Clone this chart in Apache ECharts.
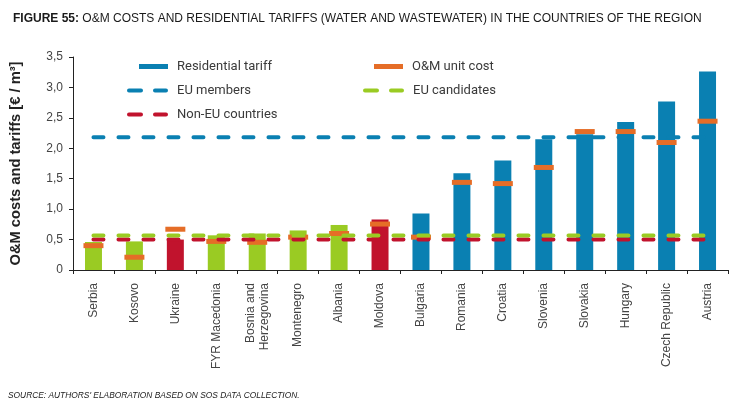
<!DOCTYPE html>
<html>
<head>
<meta charset="utf-8">
<script src="https://cdn.jsdelivr.net/npm/echarts@6/dist/echarts.min.js"></script>
<style>
html,body{margin:0;padding:0;background:#fff;}
#chart{width:744px;height:420px;}
</style>
</head>
<body>
<div id="chart"></div>
<script>
// ---- data ----
const categories = ['Serbia','Kosovo','Ukraine','FYR Macedonia','Bosnia and\nHerzegovina','Montenegro','Albania','Moldova','Bulgaria','Romania','Croatia','Slovenia','Slovakia','Hungary','Czech Republic','Austria'];
const groups = ['cand','cand','non','cand','cand','cand','cand','non','eu','eu','eu','eu','eu','eu','eu','eu'];
const residentialTariff = [0.46,0.47,0.50,0.57,0.60,0.65,0.74,0.83,0.93,1.59,1.80,2.15,2.23,2.43,2.77,3.26];
const omUnitCost = [0.40,0.21,0.67,0.47,0.455,0.54,0.60,0.755,0.54,1.44,1.42,1.685,2.275,2.275,2.095,2.445];
const euMembersAvg = 2.18;
const euCandidatesAvg = 0.565;
const nonEuAvg = 0.50;
const yTicks = ['0','0,5','1,0','1,5','2,0','2,5','3,0','3,5'];

const colors = {eu:'#0a80b2', cand:'#9acb23', non:'#c1132d', om:'#e56d27'};

const barData = residentialTariff.map((v,i)=>({value:v, itemStyle:{color:colors[groups[i]]}}));
const flat = v => categories.map(()=>v);

const chart = echarts.init(document.getElementById('chart'));
const legendText = {color:'#3a3a3a', fontSize:13, fontFamily:'Roboto, sans-serif', padding:[0,0,0,4]};
const dashPath = 'path://M2,0h12a2,2 0 0 1 0,4h-12a2,2 0 0 1 0,-4zM28,0h11a2,2 0 0 1 0,4h-11a2,2 0 0 1 0,-4z';

chart.setOption({
  animation:false,
  title:{
    text:'{b|FIGURE 55:} O&M COSTS AND RESIDENTIAL TARIFFS (WATER AND WASTEWATER) IN THE COUNTRIES OF THE REGION',
    left:8, top:8,
    textStyle:{fontSize:12, fontWeight:'normal', color:'#1a1a1a', fontFamily:'"Liberation Sans", Arial, sans-serif',
      rich:{b:{fontSize:12, fontWeight:'bold', color:'#1a1a1a', fontFamily:'"Liberation Sans", Arial, sans-serif'}}}
  },
  graphic:[{
    type:'text', left:8, top:392,
    style:{text:"SOURCE: AUTHORS' ELABORATION BASED ON SOS DATA COLLECTION.", fill:'#222', font:'italic 8.4px "Liberation Sans", Arial, sans-serif'}
  }],
  legend:[
    {data:['Residential tariff'], left:139, top:60, padding:0, itemWidth:29, itemHeight:5, icon:'rect', selectedMode:false, textStyle:legendText},
    {data:['EU members'], left:127, top:84, padding:0, itemWidth:41, itemHeight:4, icon:dashPath, selectedMode:false, textStyle:legendText},
    {data:['Non-EU countries'], left:127, top:108, padding:0, itemWidth:41, itemHeight:4, icon:dashPath, selectedMode:false, textStyle:legendText},
    {data:['O&M unit cost'], left:374, top:60, padding:0, itemWidth:29, itemHeight:5, icon:'rect', selectedMode:false, textStyle:legendText},
    {data:['EU candidates'], left:363, top:84, padding:0, itemWidth:41, itemHeight:4, icon:dashPath, selectedMode:false, textStyle:legendText}
  ],
  grid:{left:71, right:16, top:57, bottom:150, containLabel:false},
  xAxis:{
    type:'category', data:categories, boundaryGap:true,
    axisLine:{lineStyle:{color:'#222', width:1}},
    axisTick:{show:true, length:4, lineStyle:{color:'#222'}},
    axisLabel:{rotate:90, margin:13, color:'#444', fontSize:12, fontFamily:'"Liberation Sans", Arial, sans-serif', interval:0, lineHeight:14}
  },
  yAxis:{
    type:'value', min:0, max:3.5, interval:0.5,
    name:'O&M costs and tariffs [€ / m³]', nameLocation:'middle', nameGap:50, nameRotate:90,
    nameTextStyle:{fontSize:14.7, fontWeight:'bold', color:'#222', fontFamily:'"Liberation Sans", Arial, sans-serif'},
    axisLine:{show:true, lineStyle:{color:'#222'}},
    axisTick:{show:true, length:4, lineStyle:{color:'#222'}},
    splitLine:{show:false},
    axisLabel:{color:'#444', fontSize:12, margin:10, fontFamily:'"Liberation Sans", Arial, sans-serif',
      formatter:(v)=>yTicks[Math.round(v/0.5)]}
  },
  series:[
    {name:'Residential tariff', type:'bar', data:barData, barWidth:17, itemStyle:{color:colors.eu}},
    {name:'EU members', type:'line', data:flat(euMembersAvg), symbol:'none', color:colors.eu,
      lineStyle:{color:colors.eu, width:4, type:[10,15], cap:'round'}},
    {name:'Non-EU countries', type:'line', data:flat(nonEuAvg), symbol:'none', color:colors.non,
      lineStyle:{color:colors.non, width:4, type:[10,15], cap:'round'}},
    {name:'EU candidates', type:'line', data:flat(euCandidatesAvg), symbol:'none', color:colors.cand,
      lineStyle:{color:colors.cand, width:4, type:[10,15], cap:'round'}},
    {name:'O&M unit cost', type:'scatter', data:omUnitCost, symbol:'rect', symbolSize:[20,5], itemStyle:{color:colors.om, opacity:1}}
  ]
});
</script>
</body>
</html>
